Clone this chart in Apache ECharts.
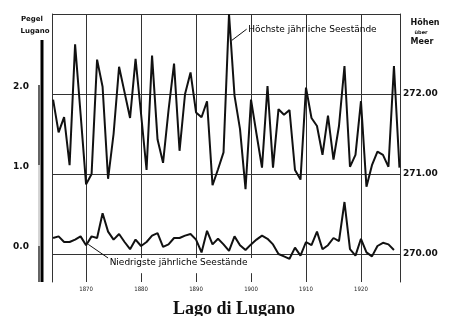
<!DOCTYPE html>
<html>
<head>
<meta charset="utf-8">
<script src="https://cdn.jsdelivr.net/npm/echarts@6/dist/echarts.min.js"></script>
<style>
html,body{margin:0;padding:0;background:#fff;}
#mychart{width:449px;height:316px;}
</style>
</head>
<body>
<div id="mychart"></div>
<script>
// Jahre
var years = [1864,1865,1866,1867,1868,1869,1870,1871,1872,1873,1874,1875,1876,1877,1878,1879,
    1880,1881,1882,1883,1884,1885,1886,1887,1888,1889,1890,1891,1892,1893,1894,1895,1896,1897,
    1898,1899,1900,1901,1902,1903,1904,1905,1906,1907,1908,1909,1910,1911,1912,1913,1914,1915,
    1916,1917,1918,1919,1920,1921,1922,1923,1924,1925,1926,1927];
// Höchste jährliche Seestände (Pegel Lugano, m)
var highLevels = [1.93,1.52,1.71,1.11,2.62,1.75,0.87,1.00,2.43,2.09,0.94,1.50,2.34,2.02,1.70,2.44,
    1.75,1.05,2.48,1.43,1.14,1.80,2.38,1.29,2.00,2.27,1.77,1.71,1.91,0.86,1.06,1.27,3.00,1.98,
    1.56,0.81,1.93,1.50,1.08,2.10,1.08,1.81,1.74,1.80,1.05,0.93,2.08,1.70,1.60,1.24,1.73,1.18,
    1.60,2.35,1.09,1.24,1.91,0.84,1.11,1.28,1.24,1.09,2.35,1.08];
// Niedrigste jährliche Seestände
var lowLevels = [0.20,0.22,0.15,0.15,0.18,0.22,0.11,0.22,0.20,0.51,0.28,0.18,0.25,0.15,0.06,0.18,
    0.10,0.15,0.23,0.26,0.09,0.12,0.20,0.20,0.23,0.25,0.18,0.02,0.29,0.12,0.19,0.12,0.04,0.22,
    0.11,0.05,0.12,0.18,0.23,0.19,0.12,0.00,-0.03,-0.06,0.08,-0.02,0.15,0.11,0.28,0.06,0.11,0.20,
    0.16,0.65,0.06,-0.02,0.19,0.02,-0.03,0.10,0.14,0.12,0.05,null];
// Achsen
var tickValues = [0, 1, 2];
var leftTickLabels = ['0.0', '1.0', '2.0'];
var rightTickLabels = ['270.00', '271.00', '272.00'];
var yearTicks = [1870, 1880, 1890, 1900, 1910, 1920];
var fullYearLines = [1870, 1910, 1920];
var brokenYearLines = [1880, 1890, 1900];

var highData = [];
var lowData = [];
for (var i = 0; i < years.length; i++) {
    highData.push([years[i], highLevels[i]]);
    lowData.push([years[i], lowLevels[i]]);
}

var gridLine = { color: '#333', width: 1, type: 'solid' };
var lineData = [];
for (var k = 0; k < tickValues.length; k++) {
    lineData.push({ yAxis: tickValues[k], lineStyle: gridLine });
}
lineData.push({ yAxis: 3, lineStyle: gridLine });
for (var k = 0; k < fullYearLines.length; k++) {
    lineData.push({ xAxis: fullYearLines[k], lineStyle: gridLine });
}
for (var k = 0; k < brokenYearLines.length; k++) {
    lineData.push([{ coord: [brokenYearLines[k], 3], lineStyle: gridLine }, { coord: [brokenYearLines[k], -0.05] }]);
    lineData.push([{ coord: [brokenYearLines[k], -0.24], lineStyle: gridLine }, { coord: [brokenYearLines[k], -0.35] }]);
}
// Hinweislinien
var leader = { color: '#111', width: 1, type: 'solid' };
lineData.push([{ coord: [1896.5, 2.67], lineStyle: leader }, { coord: [1899.2, 2.81] }]);
lineData.push([{ coord: [1870.4, 0.12], lineStyle: leader }, { coord: [1874.0, -0.05] }]);

var labelFont = { fontFamily: 'DejaVu Sans', fontSize: 9, color: '#000' };

var myChart = echarts.init(document.getElementById('mychart'));
myChart.setOption({
    backgroundColor: '#fff',
    animation: false,
    title: [
        { text: 'Pegel', left: 27, top: 11, textAlign: 'center',
          textStyle: { fontFamily: 'DejaVu Sans', fontSize: 7, fontWeight: 'bold', color: '#111' } },
        { text: 'Lugano', left: 30, top: 23, textAlign: 'center',
          textStyle: { fontFamily: 'DejaVu Sans', fontSize: 7, fontWeight: 'bold', color: '#111' } },
        { text: 'Höhen', left: 420, top: 14, textAlign: 'center',
          textStyle: { fontFamily: 'DejaVu Sans', fontSize: 8, fontWeight: 'bold', color: '#111' } },
        { text: 'über', left: 416, top: 25, textAlign: 'center',
          textStyle: { fontFamily: 'DejaVu Sans', fontSize: 5, color: '#111' } },
        { text: 'Meer', left: 417, top: 33, textAlign: 'center',
          textStyle: { fontFamily: 'DejaVu Sans', fontSize: 8, fontWeight: 'bold', color: '#111' } },
        { text: 'Lago di Lugano', left: 229, top: 295, textAlign: 'center',
          textStyle: { fontFamily: 'Liberation Serif', fontSize: 18, fontWeight: 'bold', color: '#111' } }
    ],
    grid: { left: 52, right: 49, top: 14, bottom: 34, containLabel: false },
    xAxis: {
        type: 'value',
        min: 1863.8,
        max: 1927.1,
        axisLine: { show: false },
        axisTick: { show: false },
        splitLine: { show: false },
        axisLabel: {
            customValues: yearTicks,
            margin: 4,
            fontFamily: 'DejaVu Sans Condensed',
            fontSize: 6,
            color: '#222',
            formatter: function (v) {
                return String(v);
            }
        }
    },
    yAxis: [
        {
            type: 'value',
            position: 'left',
            min: -0.35,
            max: 3,
            axisLine: { show: true, lineStyle: { color: '#333', width: 1 } },
            axisTick: { show: false },
            splitLine: { show: false },
            axisLabel: {
                customValues: tickValues,
                margin: 23,
                verticalAlign: 'bottom',
                padding: [0, 0, 3, 0],
                fontFamily: 'DejaVu Sans',
                fontSize: 9,
                fontWeight: 'bold',
                color: '#111',
                formatter: function (v) {
                    return leftTickLabels[tickValues.indexOf(v)];
                }
            }
        },
        {
            type: 'value',
            position: 'right',
            min: -0.35,
            max: 3,
            axisLine: { show: true, lineStyle: { color: '#333', width: 1 } },
            axisTick: { show: false },
            splitLine: { show: false },
            axisLabel: {
                customValues: tickValues,
                margin: 3,
                fontFamily: 'DejaVu Sans',
                fontSize: 9,
                fontWeight: 'bold',
                color: '#111',
                formatter: function (v) {
                    return rightTickLabels[tickValues.indexOf(v)];
                }
            }
        }
    ],
    // Pegellatte links
    graphic: [
        { type: 'line', shape: { x1: 42, y1: 40, x2: 42, y2: 282 }, style: { stroke: '#000', lineWidth: 3 } },
        { type: 'line', shape: { x1: 39, y1: 85, x2: 39, y2: 165 }, style: { stroke: '#111', lineWidth: 1.3 } },
        { type: 'line', shape: { x1: 39, y1: 165, x2: 39, y2: 246 }, style: { stroke: '#aaa', lineWidth: 1 } },
        { type: 'line', shape: { x1: 39, y1: 246, x2: 39, y2: 282 }, style: { stroke: '#111', lineWidth: 1.3 } }
    ],
    series: [
        {
            name: 'Höchste jährliche Seestände',
            type: 'line',
            data: highData,
            symbol: 'none',
            lineStyle: { color: '#111', width: 2 },
            z: 3,
            markLine: {
                silent: true,
                symbol: 'none',
                label: { show: false },
                z: 1,
                data: lineData
            },
            markPoint: {
                silent: true,
                symbol: 'circle',
                symbolSize: 0,
                data: [
                    { coord: [1899.3, 2.81], label: Object.assign({ show: true, position: 'right', distance: 1,
                        formatter: 'Höchste jährliche Seestände' }, labelFont) },
                    { coord: [1874.1, -0.11], label: Object.assign({ show: true, position: 'right', distance: 1,
                        formatter: 'Niedrigste jährliche Seestände' }, labelFont) }
                ]
            }
        },
        {
            name: 'Niedrigste jährliche Seestände',
            type: 'line',
            data: lowData,
            symbol: 'none',
            connectNulls: false,
            lineStyle: { color: '#111', width: 2 },
            z: 3
        }
    ]
});
</script>
</body>
</html>
